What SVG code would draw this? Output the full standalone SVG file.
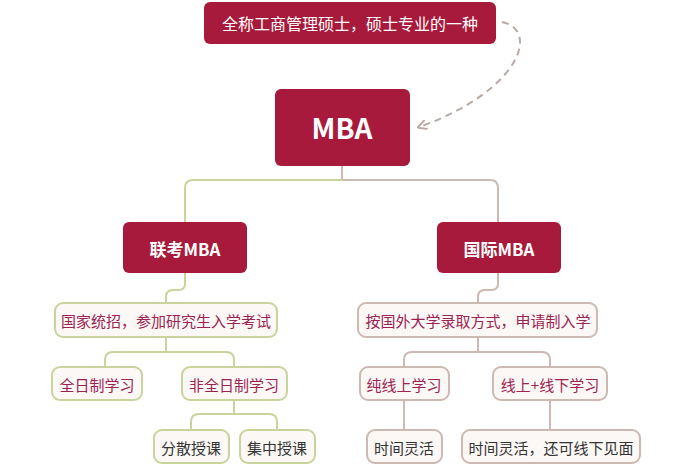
<svg xmlns="http://www.w3.org/2000/svg" width="700" height="470" viewBox="0 0 700 470">
<defs>
<style>
text{font-family:"Noto Sans CJK SC","Noto Sans",sans-serif;text-anchor:middle;dominant-baseline:central}
.red{fill:#a81a3b}
.wt{fill:#fff}
.g{fill:#fbf8f6;stroke:#c9d39c;stroke-width:2}
.b{fill:#fbf8f6;stroke:#cbb9b2;stroke-width:2}
.lg{fill:none;stroke:#c9d39c;stroke-width:2}
.lb{fill:none;stroke:#cbb9b2;stroke-width:2}
.pk{fill:#9c2350;font-size:15px}
.dk{fill:#333;font-size:15px}
</style>
<marker id="ah" viewBox="0 0 10 10" refX="5" refY="5" markerWidth="5" markerHeight="5" orient="auto"><path d="M0,0L10,5L0,10" fill="none" stroke="#b8aaa5" stroke-width="2"/></marker>
</defs>
<g id="connectors">
<path class="lb" d="M342,166V180"/>
<path class="lg" d="M342,180H193Q185,180 185,188V222"/>
<path class="lb" d="M342,180H490Q498,180 498,188V222"/>
<path class="lg" d="M185,273V284Q185,290 178,290H173Q166,290 166,297V303"/>
<path class="lb" d="M498,273V284Q498,290 491,290H485Q478,290 478,297V303"/>
<path class="lg" d="M166,337V352M105,367V360Q105,352 113,352H226Q234,352 234,360V367"/>
<path class="lg" d="M234,400V414M191,430V422Q191,414 199,414H269Q277,414 277,422V430"/>
<path class="lb" d="M478,337V352M404,367V360Q404,352 412,352H542Q550,352 550,360V367"/>
<path class="lb" d="M404,400V430M550,400V430"/>
<path d="M502,22C540,30 520,90 422,126" fill="none" stroke="#b8aaa5" stroke-width="2" stroke-dasharray="7,5" marker-end="url(#ah)"/>
</g>
<g id="top"><rect class="red" x="204" y="2" width="292" height="42" rx="6"/><text class="wt" x="350" y="23" font-size="16">全称工商管理硕士，硕士专业的一种</text></g>
<g id="mba"><rect class="red" x="275" y="89" width="135" height="77" rx="6"/><text class="wt" x="342" y="127" font-size="28" font-weight="bold" font-family="Lato,sans-serif">MBA</text></g>
<g id="lk"><rect class="red" x="123" y="222" width="124" height="51" rx="6"/><text class="wt" x="185" y="248" font-size="17" font-weight="bold">联考MBA</text></g>
<g id="gj"><rect class="red" x="437" y="222" width="124" height="51" rx="6"/><text class="wt" x="499" y="248" font-size="17" font-weight="bold">国际MBA</text></g>
<g id="ld"><rect class="g" x="55" y="303" width="222" height="34" rx="8"/><text class="pk" x="166" y="320">国家统招，参加研究生入学考试</text></g>
<g id="rd"><rect class="b" x="358" y="303" width="239" height="34" rx="8"/><text class="pk" x="478" y="320">按国外大学录取方式，申请制入学</text></g>
<g id="qr"><rect class="g" x="52" y="367" width="90" height="33" rx="8"/><text class="pk" x="97" y="384">全日制学习</text></g>
<g id="fqr"><rect class="g" x="182" y="367" width="105" height="33" rx="8"/><text class="pk" x="234" y="384">非全日制学习</text></g>
<g id="fs"><rect class="g" x="154" y="430" width="75" height="33" rx="8"/><text class="dk" x="191" y="447">分散授课</text></g>
<g id="jz"><rect class="g" x="240" y="430" width="75" height="33" rx="8"/><text class="dk" x="277" y="447">集中授课</text></g>
<g id="cx"><rect class="b" x="360" y="367" width="89" height="33" rx="8"/><text class="pk" x="404" y="384">纯线上学习</text></g>
<g id="xx"><rect class="b" x="493" y="367" width="114" height="33" rx="8"/><text class="pk" x="550" y="384">线上+线下学习</text></g>
<g id="sj1"><rect class="b" x="367" y="430" width="75" height="33" rx="8"/><text class="dk" x="404" y="447">时间灵活</text></g>
<g id="sj2"><rect class="b" x="462" y="430" width="178" height="33" rx="8"/><text class="dk" x="551" y="447">时间灵活，还可线下见面</text></g>
</svg>
